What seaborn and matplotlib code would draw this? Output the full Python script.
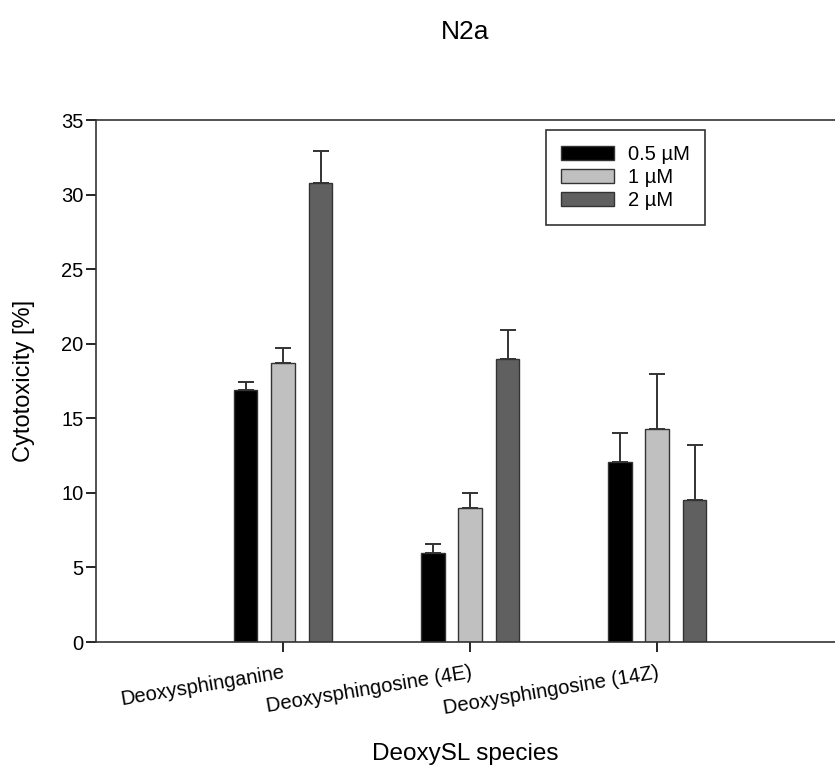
import matplotlib
matplotlib.use("Agg")
import matplotlib.pyplot as plt
import matplotlib.transforms as mtransforms
import seaborn as sns
import pandas as pd
import numpy as np

species = ["Deoxysphinganine", "Deoxysphingosine (4E)", "Deoxysphingosine (14Z)"]
concentrations = ["0.5 \u00b5M", "1 \u00b5M", "2 \u00b5M"]
values_05 = [16.9, 6.0, 12.1]
values_1 = [18.7, 9.0, 14.3]
values_2 = [30.8, 19.0, 9.5]
err_05 = [0.5, 0.6, 1.9]
err_1 = [1.0, 1.0, 3.7]
err_2 = [2.1, 1.9, 3.7]
colors = ["#000000", "#c0c0c0", "#606060"]

sns.set_theme(style="white")
plt.rcParams["font.family"] = ["Liberation Sans", "DejaVu Sans"]
plt.rcParams["text.color"] = "#000000"
plt.rcParams["axes.labelcolor"] = "#000000"

rows = []
for conc, vals in zip(concentrations, [values_05, values_1, values_2]):
    for sp, v in zip(species, vals):
        rows.append({"species": sp, "conc": conc, "value": v})
df = pd.DataFrame(rows)
errs = [err_05, err_1, err_2]

fig = plt.figure(figsize=(8.35, 7.68), dpi=100)
ax = fig.add_axes([96 / 835, (768 - 642) / 768, (835 - 96) / 835, 522 / 768])

sns.barplot(data=df, x="species", y="value", hue="conc", order=species,
            hue_order=concentrations, palette=colors, width=0.6, gap=0.37,
            edgecolor="#333333", linewidth=1.0, errorbar=None, ax=ax, zorder=2)

for cont, err in zip(ax.containers, errs):
    xs, hs = [], []
    for p in cont.patches:
        xs.append(p.get_x() + p.get_width() / 2)
        hs.append(p.get_height())
    ax.errorbar(xs, hs, yerr=[np.zeros(len(err)), err], fmt="none",
                ecolor="#333333", elinewidth=1.4, capsize=6, capthick=1.4, zorder=1)

ax.set_xlim(-1.0, 2.95)
ax.set_ylim(0, 35)
ax.set_yticks(range(0, 36, 5))
ax.set_xticks(range(len(species)))
ax.set_xticklabels(species, rotation=9.5, ha="right", rotation_mode="anchor", fontsize=14.5)
offset = mtransforms.ScaledTranslation(6 / 100, 0, fig.dpi_scale_trans)
for lbl in ax.get_xticklabels():
    lbl.set_transform(lbl.get_transform() + offset)
ax.tick_params(axis="y", labelsize=14.5, direction="out", length=7, width=1.2, left=True,
               pad=2, colors="#000000")
ax.tick_params(axis="x", direction="out", length=7, width=1.2, bottom=True, pad=8,
               colors="#000000")
for s in ["left", "bottom", "top"]:
    ax.spines[s].set_visible(True)
    ax.spines[s].set_color("#333333")
    ax.spines[s].set_linewidth(1.2)
ax.spines["right"].set_visible(False)

ax.set_xlabel("DeoxySL species", fontsize=17.5, color="#000000")
ax.xaxis.set_label_coords(0.5, -0.193)
ax.set_ylabel("Cytotoxicity [%]", fontsize=17, color="#000000")
ax.yaxis.set_label_coords(-0.083, 0.5)
ax.set_title("N2a", fontsize=19, pad=58, color="#000000")

leg = ax.legend(loc="upper left", bbox_to_anchor=(0.609, 0.981), frameon=True,
                fancybox=False, edgecolor="#000000", fontsize=14.5, handlelength=2.6,
                handleheight=0.65, borderpad=0.75, labelspacing=0.2, handletextpad=0.7,
                borderaxespad=0)
leg.get_frame().set_linewidth(1.2)
for h in leg.legend_handles:
    h.set_edgecolor("#333333")
for t in leg.get_texts():
    t.set_color("#000000")

fig.savefig("out.png", dpi=100)
